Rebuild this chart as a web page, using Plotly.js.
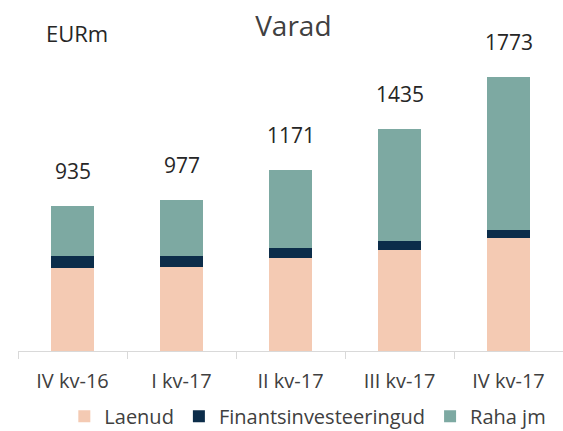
<!DOCTYPE html>
<html>
<head>
<meta charset="utf-8">
<script src="https://cdn.plot.ly/plotly-3.0.1.min.js"></script>
<style>html,body{margin:0;padding:0;background:#fff;}#chart{width:563px;height:431px;}</style>
</head>
<body>
<div id="chart"></div>
<script>
const categories = ["IV kv-16", "I kv-17", "II kv-17", "III kv-17", "IV kv-17"];
const laenud = [539, 542, 603, 652, 730];
const finantsinvesteeringud = [75, 71, 60, 61, 54];
const rahaJm = [321, 364, 508, 722, 989];
const totalLabels = ["935", "977", "1171", "1435", "1773"];

const FONT = "Open Sans, sans-serif";
const totals = categories.map((c, i) => laenud[i] + finantsinvesteeringud[i] + rahaJm[i]);

const traces = [
  {type: "bar", name: "Laenud", x: categories, y: laenud, marker: {color: "#F4CAB3"}, hoverinfo: "skip"},
  {type: "bar", name: "Finantsinvesteeringud", x: categories, y: finantsinvesteeringud, marker: {color: "#0C2D4A"}, hoverinfo: "skip"},
  {type: "bar", name: "Raha jm", x: categories, y: rahaJm, marker: {color: "#7DA9A2"}, hoverinfo: "skip"}
];

const annotations = categories.map((c, i) => ({
  x: c, y: totals[i], xref: "x", yref: "y",
  text: totalLabels[i], showarrow: false,
  xanchor: "center", yanchor: "bottom", yshift: 19,
  font: {family: FONT, size: 21, color: "#262626"}
}));
annotations.push({
  text: "EURm", xref: "paper", yref: "paper", x: 0.048, y: 1.032,
  xanchor: "left", yanchor: "middle", showarrow: false,
  font: {family: FONT, size: 22, color: "#262626"}
});

const layout = {
  width: 563, height: 431,
  margin: {l: 18, r: 0, t: 43, b: 80, pad: 0, autoexpand: false},
  paper_bgcolor: "#ffffff", plot_bgcolor: "#ffffff",
  barmode: "stack", bargap: 0.603,
  title: {text: "Varad", x: 0.521, xanchor: "center", y: 0.939, yanchor: "middle",
          font: {family: FONT, size: 28, color: "#404040"}},
  xaxis: {
    type: "category", showline: true, linecolor: "#d9d9d9", linewidth: 1,
    ticks: "outside", tickson: "boundaries", ticklen: 7, tickcolor: "#d9d9d9",
    ticklabelstandoff: 12, automargin: false,
    tickfont: {family: FONT, size: 20, color: "#404040"}, showgrid: false, fixedrange: true
  },
  yaxis: {visible: false, range: [0, 1990], showgrid: false, zeroline: false, fixedrange: true},
  showlegend: true,
  legend: {orientation: "h", x: 0.085, xanchor: "left", y: -0.212, yanchor: "middle",
           traceorder: "normal", font: {family: FONT, size: 20, color: "#404040"}},
  annotations: annotations
};

Plotly.newPlot("chart", traces, layout, {displayModeBar: false, staticPlot: true});
</script>
</body>
</html>
